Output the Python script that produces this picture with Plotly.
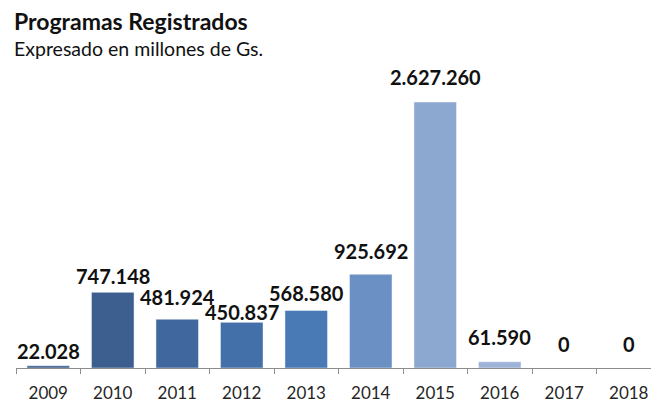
import plotly.graph_objects as go

years = ["2009", "2010", "2011", "2012", "2013", "2014", "2015", "2016", "2017", "2018"]
values = [22028, 747148, 481924, 450837, 568580, 925692, 2627260, 61590, 0, 0]
labels = ["22.028", "747.148", "481.924", "450.837", "568.580", "925.692", "2.627.260", "61.590", "0", "0"]

bar_colors = ["#3B5E8E", "#3C5F8F", "#41689E", "#4470A9", "#4A7AB6",
              "#6A90C4", "#8CA7D0", "#9DB3D8", "#9DB3D8", "#9DB3D8"]
label_shift = [15, 16, 22.5, 10.5, 17.5, 23, 25.5, 24.5, 24.5, 24.5]

FONT = "Lato"

fig = go.Figure()
fig.add_trace(go.Bar(
    x=years, y=values,
    marker=dict(color=bar_colors, line=dict(color="rgba(255,255,255,0.45)", width=1)),
    width=0.66,
    hoverinfo="x+y",
))

for i, (v, lab, s) in enumerate(zip(values, labels, label_shift)):
    fig.add_annotation(x=i, y=v, xref="x", yref="y", text="<b>%s</b>" % lab, showarrow=False,
                       xanchor="center", yanchor="middle", yshift=s,
                       font=dict(family=FONT, size=20, color="#111111"))

fig.add_annotation(xref="paper", yref="paper", x=-4/635, y=1, yshift=39,
                   text="<b>Programas Registrados</b>", showarrow=False,
                   xanchor="left", yanchor="middle",
                   font=dict(family=FONT, size=23, color="#111111"))
fig.add_annotation(xref="paper", yref="paper", x=-4/635, y=1, yshift=12,
                   text="Expresado en millones de Gs.", showarrow=False,
                   xanchor="left", yanchor="middle",
                   font=dict(family=FONT, size=19.5, color="#111111"))

fig.update_layout(
    width=651, height=403,
    margin=dict(l=16, r=0, t=60, b=35, autoexpand=False),
    paper_bgcolor="white", plot_bgcolor="white",
    showlegend=False,
    xaxis=dict(
        type="category", range=[-0.5, 9.345], automargin=False,
        showline=True, linecolor="#8C8C8C", linewidth=1,
        ticks="outside", tickson="boundaries", ticklen=5, tickcolor="#8C8C8C",
        ticklabelstandoff=10,
        tickfont=dict(family=FONT, size=17, color="#262626"),
        showgrid=False, zeroline=False,
    ),
    yaxis=dict(range=[0, 3042090], visible=False, showgrid=False, zeroline=False),
)

fig.write_html("out.html", config={"displayModeBar": False},
               post_script="document.body.style.margin='0';document.body.style.overflow='hidden';")
